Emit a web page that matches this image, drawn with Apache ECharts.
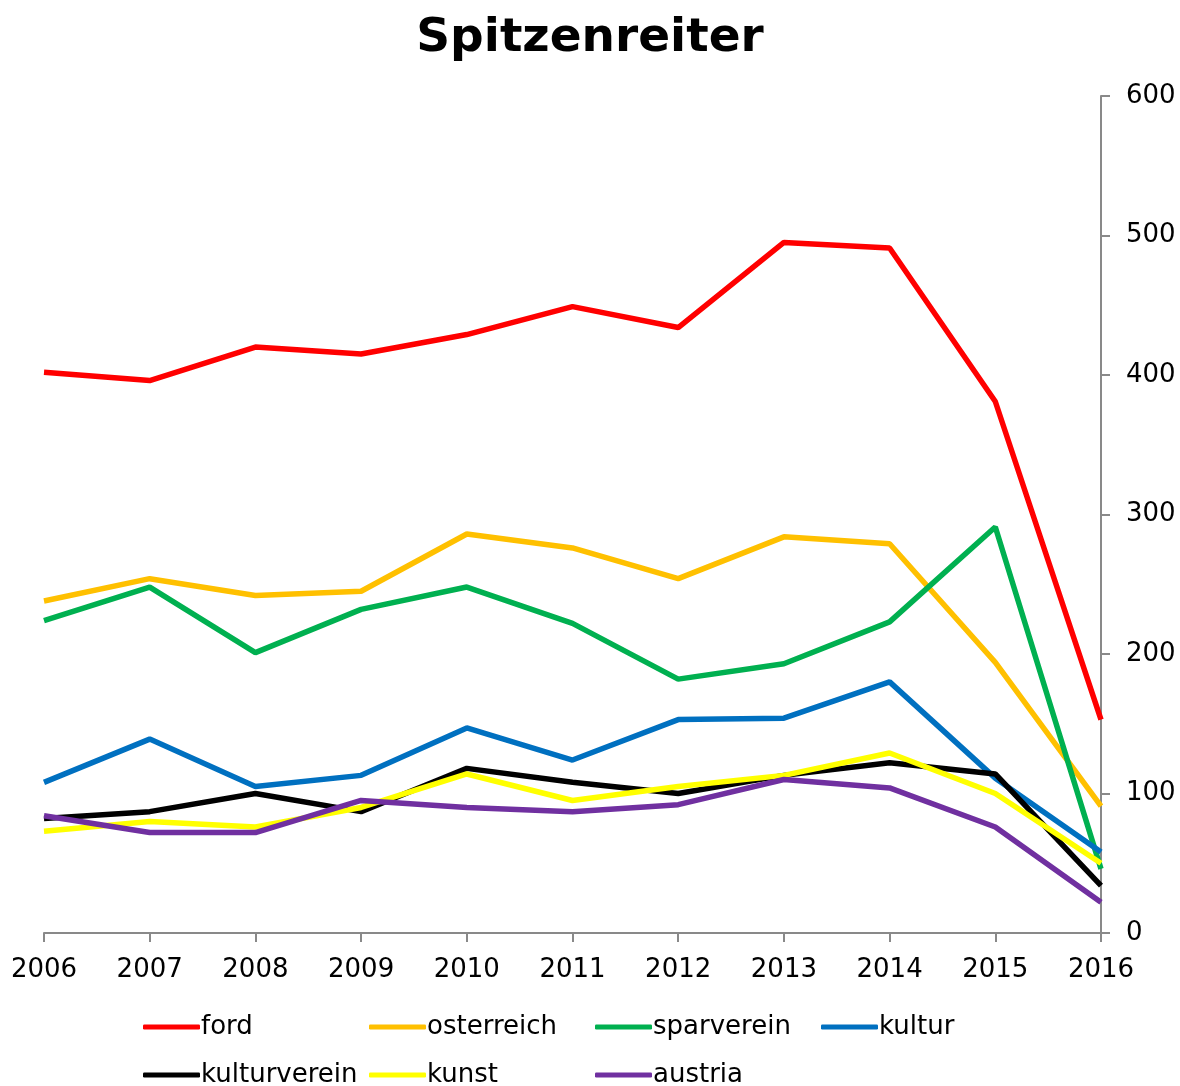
<!DOCTYPE html>
<html>
<head>
<meta charset="utf-8">
<script src="https://cdn.jsdelivr.net/npm/echarts@6/dist/echarts.min.js"></script>
<style>
  html, body { margin: 0; padding: 0; background: #fff; }
  #chart { width: 1180px; height: 1086px; }
</style>
</head>
<body>
<div id="chart"></div>
<script>
var years = ['2006', '2007', '2008', '2009', '2010', '2011', '2012', '2013', '2014', '2015', '2016'];

var ford = [402, 396, 420, 415, 429, 449, 434, 495, 491, 381, 153];
var osterreich = [238, 254, 242, 245, 286, 276, 254, 284, 279, 194, 91];
var sparverein = [224, 248, 201, 232, 248, 222, 182, 193, 223, 291, 46];
var kultur = [108, 139, 105, 113, 147, 124, 153, 154, 180, 111, 58];
var kulturverein = [82, 87, 100, 87, 118, 108, 100, 113, 122, 114, 34];
var kunst = [73, 80, 76, 90, 114, 95, 105, 113, 129, 100, 50];
var austria = [84, 72, 72, 95, 90, 87, 92, 110, 104, 76, 22];

var names = ['ford', 'osterreich', 'sparverein', 'kultur', 'kulturverein', 'kunst', 'austria'];
var values = [ford, osterreich, sparverein, kultur, kulturverein, kunst, austria];
var colors = ['#FF0000', '#FFC000', '#00B050', '#0070C0', '#000000', '#FFFF00', '#7030A0'];

var dom = document.getElementById('chart');
var myChart = echarts.init(dom, null, { renderer: 'canvas' });

var font = 'DejaVu Sans, Verdana, sans-serif';

// one legend per item so they sit in a 4 column grid like the original
var legends = names.map(function (n, i) {
  return {
    data: [{ name: n, icon: 'roundRect' }],
    left: 143 + (i % 4) * 226,
    top: i < 4 ? 1014 : 1062,
    itemWidth: 57,
    itemHeight: 5,
    padding: 0,
    textStyle: { fontFamily: font, fontSize: 26, color: '#000', padding: [0, 0, 0, -4] }
  };
});

var option = {
  animation: false,
  color: colors,
  title: {
    text: 'Spitzenreiter',
    left: 'center',
    top: 10,
    textStyle: { fontFamily: font, fontSize: 47, fontWeight: 'bold', color: '#000' }
  },
  legend: legends,
  grid: { left: 44, right: 79, top: 96, bottom: 153 },
  xAxis: {
    type: 'category',
    data: years,
    boundaryGap: false,
    axisLine: { lineStyle: { color: '#898989', width: 2 } },
    axisTick: { show: true, length: 9, lineStyle: { color: '#898989', width: 2 } },
    axisLabel: { fontFamily: font, fontSize: 26, color: '#000', margin: 24 },
    splitLine: { show: false }
  },
  yAxis: {
    type: 'value',
    position: 'right',
    min: 0,
    max: 600,
    interval: 100,
    axisLine: { show: true, lineStyle: { color: '#898989', width: 2 } },
    axisTick: { show: true, length: 9, lineStyle: { color: '#898989', width: 2 } },
    axisLabel: { fontFamily: font, fontSize: 26, color: '#000', margin: 25 },
    splitLine: { show: false }
  },
  series: names.map(function (n, i) {
    return {
      name: n,
      type: 'line',
      data: values[i],
      symbol: 'none',
      lineStyle: { width: 5.5, color: colors[i] },
      itemStyle: { color: colors[i] }
    };
  })
};

if (option && typeof option === 'object') {
  myChart.setOption(option);
}

window.addEventListener('resize', myChart.resize);
</script>
</body>
</html>
